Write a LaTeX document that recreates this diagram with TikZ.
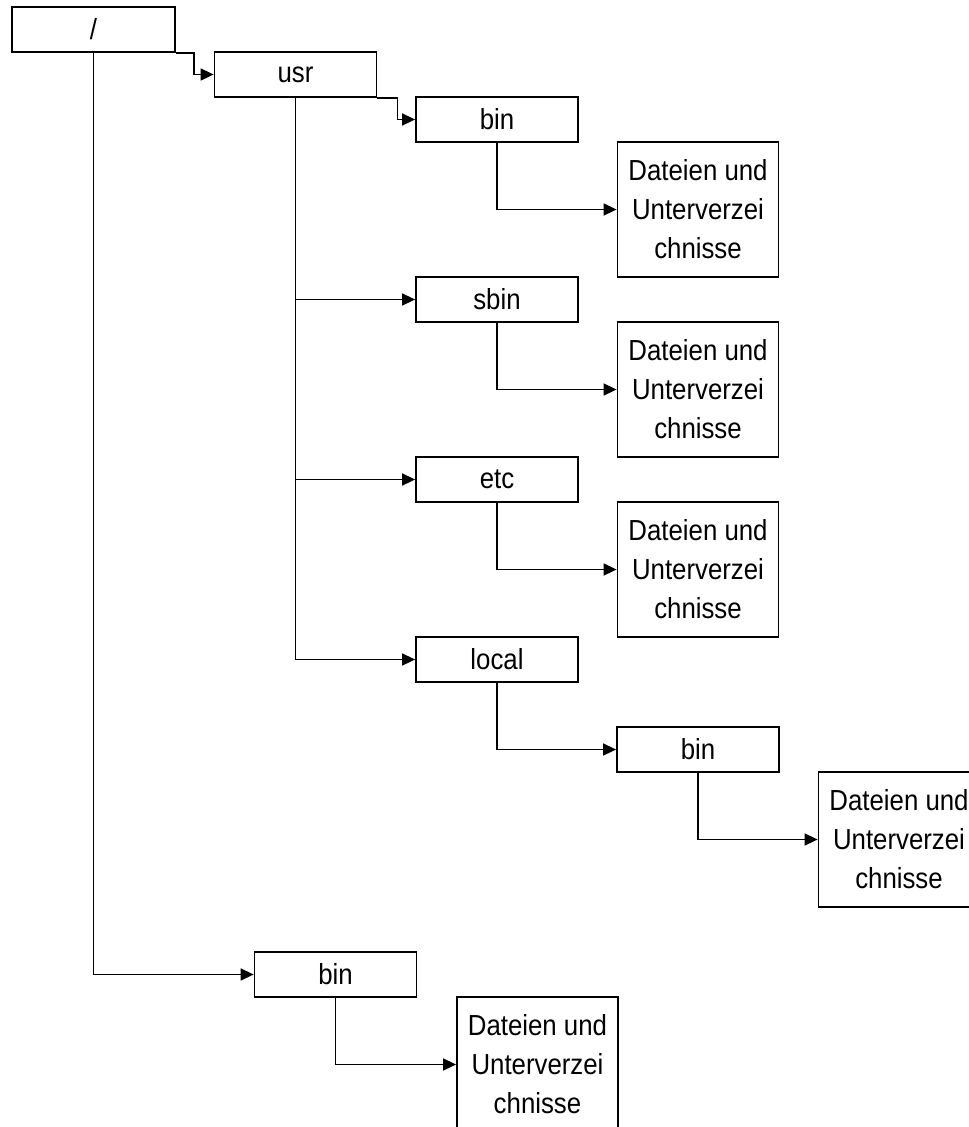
\documentclass[tikz,border=0pt]{standalone}
\usepackage{fontspec}
\setmainfont{Liberation Sans}[FakeStretch=0.89]
\usetikzlibrary{arrows.meta}
\begin{document}
\begin{tikzpicture}[x=1pt,y=-1pt,
  every node/.style={font=\fontsize{29}{39}\selectfont},
  dirbox/.style={draw,line width=1.8pt,rectangle,inner sep=0pt,minimum width=162pt,minimum height=45pt},
  filebox/.style={draw,line width=1.8pt,rectangle,inner sep=0pt,minimum width=161pt,minimum height=135pt,align=center},
  conn/.style={line width=1.6pt,-{Triangle[length=13pt,width=12pt]}}]
\useasboundingbox (0,0) rectangle (969,1127);
\clip (0,0) rectangle (969,1127);
\fill[white] (0,0) rectangle (969,1127);
\node[dirbox,minimum width=163pt] (root) at (93.5,29.5) {/};
\node[dirbox] (usr) at (295.5,74.5) {usr};
\node[dirbox] (bin) at (497,119.5) {bin};
\node[filebox] (f1) at (698,209.5) {Dateien und\\Unterverzei\\chnisse};
\node[dirbox] (sbin) at (497,299.5) {sbin};
\node[filebox] (f2) at (698,389.5) {Dateien und\\Unterverzei\\chnisse};
\node[dirbox] (etc) at (497,479.5) {etc};
\node[filebox] (f3) at (698,569.5) {Dateien und\\Unterverzei\\chnisse};
\node[dirbox] (local) at (497,659.5) {local};
\node[dirbox] (lbin) at (698,749.5) {bin};
\node[filebox] (f4) at (899,839.5) {Dateien und\\Unterverzei\\chnisse};
\node[dirbox] (bbin) at (335.5,974.5) {bin};
\node[filebox] (f5) at (537.5,1064.5) {Dateien und\\Unterverzei\\chnisse};
\draw[conn] (root.south east) -- ++(18,0) |- (usr.west);
\draw[conn] (usr.south east) -- ++(20,0) |- (bin.west);
\draw[conn] (bin.south) |- (f1.west);
\draw[conn] (usr.south) |- (local.west);
\draw[conn] (usr.south |- sbin.west) -- (sbin.west);
\draw[conn] (usr.south |- etc.west) -- (etc.west);
\draw[conn] (sbin.south) |- (f2.west);
\draw[conn] (etc.south) |- (f3.west);
\draw[conn] (local.south) |- (lbin.west);
\draw[conn] (lbin.south) |- (f4.west);
\draw[conn] (root.south) |- (bbin.west);
\draw[conn] (bbin.south) |- (f5.west);
\end{tikzpicture}
\end{document}
